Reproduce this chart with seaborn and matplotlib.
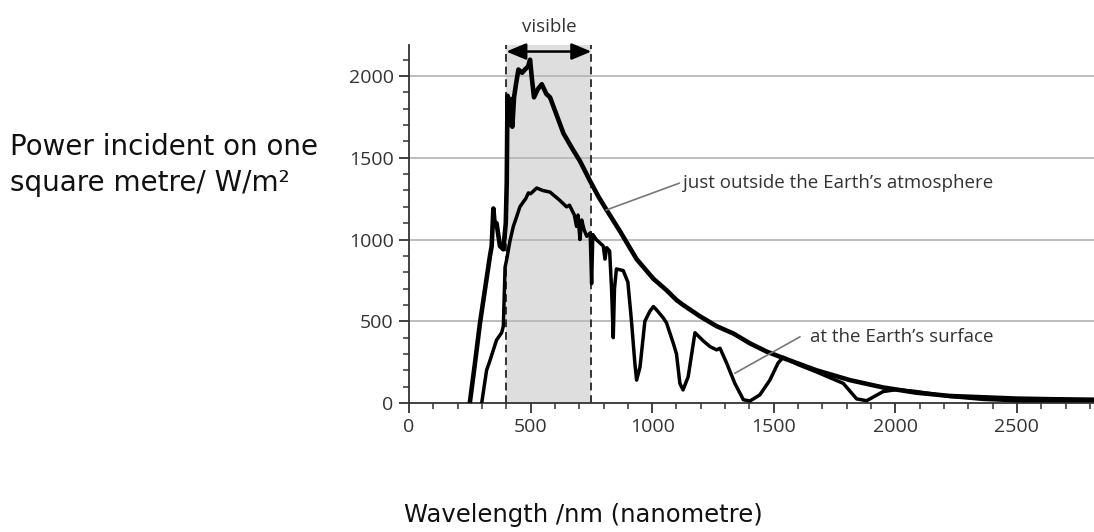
import pandas as pd
import seaborn as sns
import matplotlib.pyplot as plt
from matplotlib.ticker import MultipleLocator

# spectrum just outside the atmosphere (nm, W/m^2)
wl_outside = [250, 271, 292, 312, 333, 340, 347, 352, 360, 374, 388, 398, 402, 405, 410,
              418, 425, 432, 440, 450, 465, 477, 490, 498, 505, 514, 530, 546, 565, 580,
              600, 635, 670, 703, 744, 780, 813, 868, 936, 1005, 1059, 1100, 1127, 1197,
              1265, 1334, 1402, 1470, 1539, 1676, 1813, 1950, 2087, 2224, 2361, 2498,
              2650, 2820]
p_outside = [0, 240, 490, 690, 900, 960, 1190, 1100, 1100, 960, 940, 1100, 1350, 1880, 1700,
             1860, 1690, 1870, 1950, 2040, 2020, 2040, 2060, 2100, 1990, 1870, 1920, 1950,
             1890, 1870, 1790, 1650, 1560, 1480, 1360, 1260, 1180, 1050, 880, 760, 690,
             630, 600, 530, 470, 425, 365, 315, 275, 200, 140, 95, 63, 43, 35, 27, 23, 20]

# spectrum at the Earth's surface
wl_surface = [299, 319, 333, 347, 360, 381, 388, 395, 402, 415, 429, 445, 456, 470, 480,
              491, 500, 525, 550, 580, 620, 648, 660, 680, 689, 695, 703, 710, 720, 731,
              745, 751, 756, 770, 799, 806, 813, 825, 833, 840, 845, 853, 881, 900, 915,
              929, 936, 950, 970, 990, 1005, 1018, 1046, 1059, 1087, 1100, 1114, 1127,
              1148, 1176, 1210, 1238, 1265, 1279, 1306, 1340, 1375, 1402, 1443, 1484,
              1518, 1539, 1600, 1676, 1786, 1841, 1882, 1950, 2005, 2087, 2224, 2361,
              2498, 2820]
p_surface = [0, 200, 260, 325, 385, 430, 470, 830, 880, 990, 1080, 1150, 1200, 1230, 1250,
             1285, 1280, 1315, 1300, 1290, 1240, 1200, 1210, 1150, 1080, 1150, 1000, 1120,
             1060, 1020, 1040, 730, 1030, 1000, 960, 880, 950, 930, 700, 400, 700, 820,
             810, 740, 500, 240, 140, 220, 500, 560, 590, 570, 520, 490, 365, 300, 120,
             80, 160, 430, 380, 345, 325, 335, 245, 120, 20, 12, 50, 140, 245, 280, 235,
             190, 120, 25, 14, 70, 82, 70, 40, 22, 14, 14]

visible_band = [400, 750]
x_ticks = [0, 500, 1000, 1500, 2000, 2500]
y_ticks = [0, 500, 1000, 1500, 2000]

df_out = pd.DataFrame({"wavelength": wl_outside, "power": p_outside})
df_surf = pd.DataFrame({"wavelength": wl_surface, "power": p_surface})

sns.set_style("ticks")
plt.rcParams["font.family"] = ["Open Sans", "DejaVu Sans"]

fig = plt.figure(figsize=(10.94, 5.32), dpi=100)
ax = fig.add_axes([409 / 1094, 1 - 403 / 532, 1 - 409 / 1094, (403 - 45) / 532])

dark = "#333333"
ax.axvspan(visible_band[0], visible_band[1], ymin=0, ymax=1, color="#dedede", lw=0, zorder=0)
for y in y_ticks[1:]:
    ax.axhline(y, color="#b8b8b8", lw=1.3, zorder=1)
for x in visible_band:
    ax.axvline(x, color=dark, lw=1.4, ls=(0, (4, 2.5)), zorder=2)

sns.lineplot(data=df_out, x="wavelength", y="power", ax=ax, color="black", linewidth=3.3,
             estimator=None, sort=False, zorder=3)
sns.lineplot(data=df_surf, x="wavelength", y="power", ax=ax, color="black", linewidth=2.5,
             estimator=None, sort=False, zorder=3)

ax.set_xlim(0, 2817)
ax.set_ylim(0, 2190)
ax.set_xticks(x_ticks)
ax.set_yticks(y_ticks)
ax.xaxis.set_minor_locator(MultipleLocator(100))
ax.yaxis.set_minor_locator(MultipleLocator(100))
ax.tick_params(which="major", length=7, width=1.3, color=dark, labelsize=14,
               labelcolor=dark, pad=4)
ax.tick_params(which="minor", length=4, width=1.1, color=dark)
ax.set_xlabel("")
ax.set_ylabel("")
for side in ["left", "bottom"]:
    ax.spines[side].set_color(dark)
    ax.spines[side].set_linewidth(1.3)
sns.despine(ax=ax)

# visible band arrow and label
ax.annotate("", xy=(visible_band[0], 2150), xytext=(visible_band[1], 2150),
            arrowprops=dict(arrowstyle="<|-|>,head_length=0.6,head_width=0.25",
                            mutation_scale=20, color="black", lw=1.8, shrinkA=0, shrinkB=0),
            annotation_clip=False)
ax.text(575, 2300, "visible", ha="center", va="center", fontsize=13.5, color=dark, clip_on=False)

# callouts
ax.plot([810, 1112], [1180, 1345], color="#777777", lw=1.2, zorder=4)
ax.text(1127, 1345, "just outside the Earth\u2019s atmosphere", ha="left", va="center",
        fontsize=13.5, color=dark)
ax.plot([1340, 1608], [182, 405], color="#777777", lw=1.2, zorder=4)
ax.text(1648, 405, "at the Earth\u2019s surface", ha="left", va="center",
        fontsize=13.5, color=dark)

fig.text(10 / 1094, 1 - 165 / 532, "Power incident on one\nsquare metre/ W/m\u00b2",
         ha="left", va="center", fontsize=20, family="DejaVu Sans", color="#111111",
         linespacing=1.35)
fig.text(583 / 1094, 1 - 515 / 532, "Wavelength /nm (nanometre)", ha="center", va="center",
         fontsize=17.5, family="DejaVu Sans", color="#111111")

fig.savefig("out.png", dpi=100)
